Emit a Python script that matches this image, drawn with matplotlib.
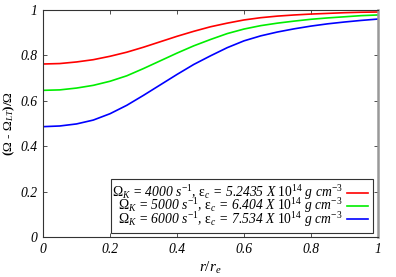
import matplotlib
matplotlib.use("Agg")
import matplotlib.pyplot as plt
from matplotlib.patches import Rectangle

plt.rcParams['font.family'] = ['Liberation Serif', 'DejaVu Serif']
plt.rcParams['mathtext.fontset'] = 'custom'
plt.rcParams['mathtext.rm'] = 'Liberation Serif'
plt.rcParams['mathtext.it'] = 'Liberation Serif:italic'
plt.rcParams['mathtext.bf'] = 'Liberation Serif:bold'

# r / r_e
r = [0.0, 0.05, 0.1, 0.15, 0.2, 0.25, 0.3, 0.35, 0.4, 0.45, 0.5,
     0.55, 0.6, 0.65, 0.7, 0.75, 0.8, 0.85, 0.9, 0.95, 1.0]

# (Omega - Omega_LT)/Omega
drag_4000 = [0.762, 0.764, 0.771, 0.781, 0.796, 0.814, 0.836, 0.860, 0.884, 0.906, 0.926,
             0.942, 0.956, 0.966, 0.973, 0.978, 0.982, 0.985, 0.988, 0.990, 0.991]
drag_5000 = [0.646, 0.648, 0.656, 0.668, 0.686, 0.710, 0.742, 0.776, 0.810, 0.842, 0.870,
             0.896, 0.916, 0.931, 0.942, 0.951, 0.959, 0.965, 0.970, 0.975, 0.978]
drag_6000 = [0.486, 0.489, 0.498, 0.515, 0.543, 0.580, 0.624, 0.670, 0.716, 0.760, 0.798,
             0.834, 0.864, 0.886, 0.903, 0.917, 0.929, 0.939, 0.947, 0.954, 0.960]

labels = [r'$\Omega_K$ = 4000 $s^{-1}$, $\mathrm{\epsilon}_c$ = 5.2435 X $\mathit{10}^{\mathit{14}}$ g $cm^{-3}$',
          r'$\Omega_K$ = 5000 $s^{-1}$, $\mathrm{\epsilon}_c$ = 6.404 X $\mathit{10}^{\mathit{14}}$ g $cm^{-3}$',
          r'$\Omega_K$ = 6000 $s^{-1}$, $\mathrm{\epsilon}_c$ = 7.534 X $\mathit{10}^{\mathit{14}}$ g $cm^{-3}$']
line_colors = ['#ff0000', '#00ee00', '#0000ff']

xticks = [0, 0.2, 0.4, 0.6, 0.8, 1]
yticks = [0, 0.2, 0.4, 0.6, 0.8, 1]

fig = plt.figure(figsize=(3.96, 2.77), dpi=100)
ax = fig.add_axes([0.1086, 0.1444, 0.8459, 0.8196])

for ys, c in zip([drag_4000, drag_5000, drag_6000], line_colors):
    ax.plot(r, ys, color=c, lw=1.2)

ax.set_xlim(0, 1)
ax.set_ylim(0, 1)
ax.set_xticks(xticks)
ax.set_yticks(yticks)
ax.set_xticklabels(['0', '0.2', '0.4', '0.6', '0.8', '1'], fontstyle='italic', fontsize=9.8)
ax.set_yticklabels(['0', '0.2', '0.4', '0.6', '0.8', '1'], fontstyle='italic', fontsize=9.8)
ax.tick_params(direction='in', top=True, right=True, length=3, width=0.6, pad=4, colors='#333333')
for t in ax.get_xticklabels() + ax.get_yticklabels():
    t.set_color('black')
for side in ['left', 'top', 'bottom']:
    ax.spines[side].set_color('#333333')
    ax.spines[side].set_linewidth(0.8)
ax.spines['right'].set_color('#999999')
ax.spines['right'].set_linewidth(1.8)

ax.set_xlabel(r'$r/r_e$', fontsize=11)
ax.xaxis.set_label_coords(0.5, -0.1)
ax.set_ylabel(r'($\Omega$ - $\Omega_{LT}$)/$\Omega$', fontsize=9.5, fontweight='bold')
ax.yaxis.set_label_coords(-0.077, 0.5)

# legend drawn as in the gnuplot original: right-aligned text, sample on the right
ax.add_patch(Rectangle((0.203, 0.018), 0.782, 0.238, transform=ax.transAxes,
                       facecolor='white', edgecolor='#333333', lw=0.8, zorder=3))
rows = [0.195, 0.137, 0.078]
for lab, c, yy in zip(labels, line_colors, rows):
    ax.text(0.8955, yy, lab, transform=ax.transAxes, ha='right', va='center',
            fontsize=9.8, fontstyle='italic', zorder=4)
    ax.plot([0.907, 0.970], [yy, yy], transform=ax.transAxes, color=c, lw=1.2, zorder=4)

fig.savefig('out.png', dpi=100)
